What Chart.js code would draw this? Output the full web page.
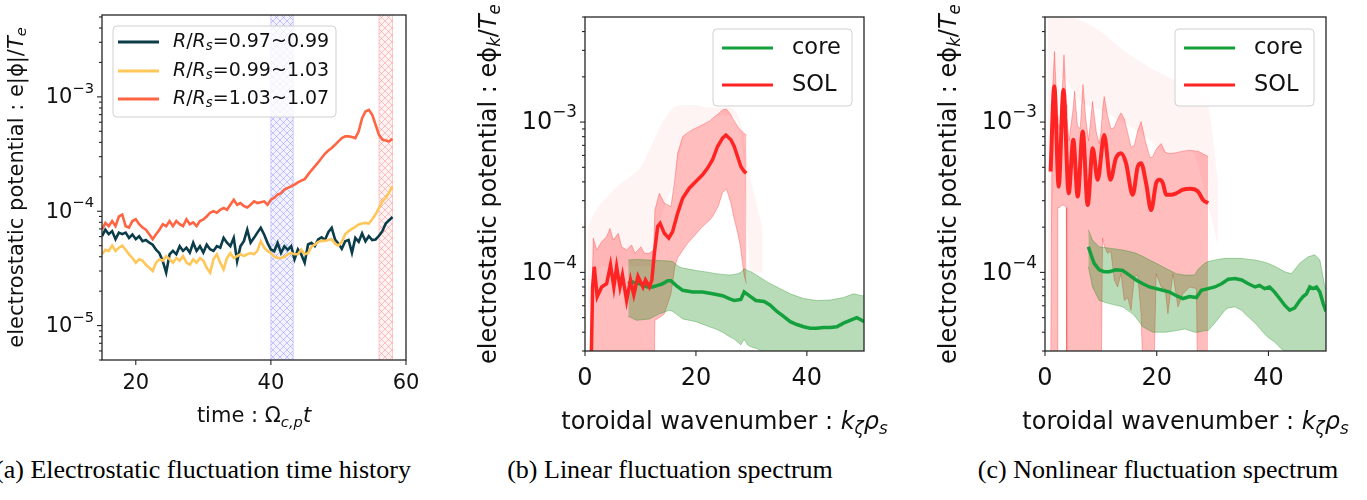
<!DOCTYPE html>
<html>
<head>
<meta charset="utf-8">
<script src="https://cdn.jsdelivr.net/npm/chart.js@4.4.1/dist/chart.umd.min.js"></script>
<style>
  body { margin: 0; background: #fff; width: 1367px; height: 500px; overflow: hidden; position: relative; }
  .panel { position: absolute; top: 0; height: 445px; }
  .cap { position: absolute; top: 457px; width: 520px; text-align: center; line-height: 26px;
         font-family: "Liberation Serif", serif; font-size: 26px; color: #000; white-space: nowrap; }
</style>
</head>
<body>
<div class="panel" style="left:0;width:460px"><canvas id="pa"></canvas></div>
<div class="panel" style="left:465px;width:430px"><canvas id="pb"></canvas></div>
<div class="panel" style="left:925px;width:442px"><canvas id="pc"></canvas></div>
<div class="cap" style="left:-57px">(a) Electrostatic fluctuation time history</div>
<div class="cap" style="left:410px">(b) Linear fluctuation spectrum</div>
<div class="cap" style="left:898px">(c) Nonlinear fluctuation spectrum</div>
<script>
// all potentials below are read in units of 1e-4
const U = 1e-4;

// (a) time history
const timeT = [15,15.5,16,16.5,17,17.5,18,18.5,19,19.5,20,20.5,21,21.5,22,22.5,23,23.5,24,24.5,
  25,25.5,26,26.5,27,27.5,28,28.5,29,29.5,30,30.5,31,31.5,32,32.5,33,33.5,34,34.5,35,35.5,36,36.5,
  37,37.5,38,38.5,39,39.5,40,40.5,41,41.5,42,42.5,43,43.5,44,44.5,45,45.5,46,46.5,47,47.5,48,48.5,
  49,49.5,50,50.5,51,51.5,52,52.5,53,53.5,54,54.5,55,55.5,56,56.5,57,57.5,58];
const phiInner = [0.605,0.69,0.63,0.67,0.57,0.65,0.63,0.65,0.585,0.626, 0.57,0.605,0.547,0.56,0.53,0.51,0.46,0.43,0.366,0.29,
  0.42,0.45,0.42,0.495,0.45,0.48,0.435,0.53,0.45,0.495, 0.435,0.51,0.465,0.45,0.495,0.48,0.585,0.53,0.495,0.585,
  0.366,0.495,0.547,0.69,0.53,0.585,0.65, 0.716,0.626,0.529,0.463,0.448,0.529,0.433,0.495,0.46,0.495,
  0.38,0.463,0.419,0.355,0.512,0.529,0.495,0.566,0.59,0.56, 0.655,0.716,0.566,0.52,0.47,0.547,0.56,0.433,0.585,0.54,
  0.64,0.547,0.605,0.56,0.566,0.61,0.669,0.78,0.835,0.89];
const phiMid = [0.42,0.46,0.45,0.50,0.45,0.48,0.50,0.46,0.42,0.39, 0.355,0.38,0.37,0.34,0.32,0.30,0.355,0.38,0.37,0.405,
  0.38,0.355,0.39,0.37,0.405,0.355,0.34,0.38,0.355,0.39, 0.37,0.32,0.29,0.38,0.42,0.355,0.31,0.39,0.43,0.39,
  0.405,0.42,0.405,0.42,0.43,0.42,0.45, 0.547,0.48,0.45,0.43,0.40,0.39,0.39,0.40,0.42,0.43,
  0.42,0.42,0.46,0.42,0.43,0.49,0.51,0.54,0.55,0.55, 0.56,0.57,0.52,0.50,0.54,0.63,0.67,0.70,0.73,0.765,
  0.78,0.79,0.78,0.85,0.94,1.07,1.22,1.31,1.46,1.65];
const phiOuter = [0.69,0.79,0.74,0.82,0.74,0.90,0.935,0.74,0.72,0.82, 0.85,0.77,0.72,0.69,0.63,0.57,0.63,0.69,0.77,0.74,
  0.82,0.74,0.82,0.77,0.74,0.85,0.77,0.80,0.74,0.82, 0.85,0.90,0.97,1.0,0.97,1.03,1.07,1.03,1.14,1.26,
  1.14,1.18,1.11,1.08,1.14,1.22,1.18, 1.20,1.22,1.14,1.26,1.31,1.40,1.44,1.55,1.60,1.65,
  1.71,1.79,1.85,1.91,2.09,2.28,2.47,2.67,2.92,3.18, 3.40,3.57,3.81,4.08,4.36,4.51,4.51,4.45,4.36,4.99,
  6.52,7.45,7.7,6.97,5.70,4.66,4.22,4.15,4.08,4.3];
const hatchStart = [40, 56];
const hatchEnd = [43.3, 58];
const timeTicks = [20, 40, 60];
const seriesNamesA = ['0.97~0.99', '0.99~1.03', '1.03~1.07'];

// (b) linear spectrum
const kSolLin = [1.0,1.37,1.67,2.2,3.0,3.9,4.6,5.2,5.7,6.3,6.75,7.5,8.2,8.8,9.55,10.45,10.9,11.6,12.05,12.5,
  13.1,13.55,14.3,15.1,15.8,16.7,17.6,18.8,20.3,21.2,22.1,23.0,23.9,24.8,25.4,26.3,26.9,27.5,28.1,28.7,29.1];
const solLin = [0.15,0.80,1.09,0.69,0.80,0.84,1.12,0.80,1.09,0.80,0.96,0.65,0.89,0.71,0.94,0.80,0.89,0.80,0.89,1.34,
  2.02,2.12,1.82,1.69,1.87,2.47,3.11,3.63,4.13,4.46,4.94,5.62,6.88,7.82,8.2,7.63,6.88,5.9,5.06,4.69,4.57];
const kSolBandLin = [1.0,1.5,2.1,3.0,3.9,4.5,5.1,6.0,6.6,7.5,8.4,9.0,10.1,10.7,11.6,12.4,12.6,13.4,14.3,15.5,
  16.2,16.7,17.6,18.5,19.4,21.2,22.5,23.0,24.0,24.8,25.5,26.3,26.8,27.5,28.0,28.4,28.7,29.1];
const solUpLin = [0.3,1.69,1.41,1.60,1.73,1.96,1.64,1.82,1.48,1.41,1.52,1.34,1.48,1.34,1.34,1.41,2.6,3.36,2.89,2.74,
  4.2,6.2,8.0,8.5,8.9,9.6,10.2,10.6,11.3,12.1,12.2,11.2,10.3,9.4,8.9,8.6,8.4,8.2];
const solLoLin = [0.1,0.1,0.1,0.1,0.1,0.1,0.1,0.1,0.1,0.1,0.1,0.1,0.1,0.1,0.1,0.1,0.48,0.50,0.53,0.72,
  1.09,1.25,1.40,1.56,1.70,2.02,2.23,2.35,2.74,3.4,3.6,2.9,2.35,1.85,1.5,1.15,0.95,0.84];
const kCoreLin = [7.8,8.4,9.0,9.55,10.4,11.3,12.2,13.1,14.0,14.9,15.5,16.4,17.6,19.4,21.2,23.0,24.8,26.0,26.9,28.1,
  28.7,29.6,30.8,32.3,33.4,34.6,35.8,37.0,38.2,39.4,40.6,41.8,43.0,44.2,45.4,46.6,47.8,49.0,49.9,50.3];
const coreLin = [0.84,0.87,0.85,0.85,0.82,0.80,0.80,0.82,0.84,0.88,0.88,0.82,0.76,0.74,0.74,0.72,0.70,0.67,0.65,0.66,
  0.74,0.70,0.65,0.64,0.605,0.55,0.51,0.47,0.45,0.435,0.425,0.425,0.43,0.43,0.435,0.46,0.48,0.50,0.48,0.47];
const kCoreBandLin = [7.8,9.3,11.6,13.4,15.2,15.8,16.4,17.0,17.6,19.4,20.0,22.4,23.6,24.8,26.0,26.9,27.5,28.1,28.7,29.3,
  29.9,31.1,32.3,32.9,34.6,37.0,39.4,41.8,44.2,46.6,48.4,49.9,50.3];
const coreUpLin = [1.21,1.22,1.21,1.20,1.19,1.18,1.13,1.09,1.07,1.04,1.03,1.0,0.98,0.97,0.96,0.97,0.98,1.0,1.06,1.03,
  1.01,0.95,0.89,0.86,0.80,0.72,0.67,0.65,0.655,0.68,0.72,0.70,0.70];
const coreLoLin = [0.51,0.48,0.49,0.53,0.56,0.55,0.53,0.51,0.49,0.475,0.47,0.435,0.42,0.40,0.375,0.36,0.345,0.33,0.36,0.33,
  0.32,0.31,0.295,0.28,0.2,0.2,0.2,0.2,0.2,0.2,0.2,0.2,0.2];
// faint cloud of individual spectra behind the SOL band
const kHazeLin = [0.5,2,4,6,8,10,12,14,16,18,20,22,24,26,28,30,32];
const hazeUpLin = [2.0,2.6,3.2,3.8,4.3,5.0,7,10,12.5,13,13,12.5,12.5,12.5,10,4,2];
const hazeLoLin = [0.5,1.0,1.1,1.1,1.1,1.1,1.1,2.5,4,8,9,10,11,11,9,1.0,1.0];

// (c) nonlinear spectrum
const kSolNl = [1.0,1.67,2.45,3.3,4.24,5.07,5.85,6.75,7.64,8.54,9.43,10.6,11.7,12.7,13.6,14.5,15.7,16.6,17.2,18.1,
  19.0,19.9,20.5,21.1,21.7,22.6,23.5,24.7,26.0,27.4,28.3,29.2];
const solNl = [4.69,17.3,3.72,16.4,3.36,7.63,3.2,8.66,2.81,6.7,4.13,8.2,4.13,5.76,6.2,5.33,3.28,5.06,5.33,3.92,
  2.6,3.92,4.13,3.92,3.28,3.28,3.36,3.55,3.6,3.45,3.03,2.89];
const kSolBandNl = [1.0,1.3,1.7,2.2,2.3,2.6,3.0,3.4,3.8,3.9,4.3,5.0,5.3,5.8,6.3,6.8,7.3,7.8,8.5,9.2,
  9.7,10.0,10.3,10.6,11.2,11.8,12.4,13.0,13.6,14.2,14.8,15.4,16.0,16.6,17.2,17.8,18.0,18.8,19.3,19.9,
  20.8,21.5,22.0,22.9,23.8,24.7,25.9,27.1,27.4,29.2];
const solUpNl = [0.2,15,29.5,11,10,9,14,28,13,11,7.5,12,16,9.5,9,17.8,10.5,7.5,13.7,8.5,
  7.2,8.5,12,14.8,11,9,9.2,10.5,11.5,10.5,8.5,6.8,7.0,8.8,10.1,8.0,7.4,5.8,5.9,6.6,
  7.2,6.3,6.2,6.2,6.3,6.4,6.5,6.4,6.4,5.9];
const solLoNl = [0.1,0.1,0.1,0.1,2.7,2.7,2.8,2.8,2.7,0.1,0.1,0.1,0.1,0.1,0.1,0.1,0.1,0.1,0.1,0.1,
  0.1,0.1,1.69,1.5,1.34,1.38,0.89,0.80,0.98,0.65,0.68,0.56,0.94,0.96,0.53,0.1,0.1,0.1,0.1,0.98,
  0.80,0.78,0.53,0.98,0.59,0.72,0.80,0.78,0.1,0.1];
const kCoreNl = [7.76,8.24,8.8,9.7,10.6,11.5,12.7,13.9,15.1,16.3,17.5,18.7,19.9,21.1,22.3,23.5,24.7,25.9,27.1,28.0,
  29.2,30.4,31.6,32.8,34.0,35.2,36.4,37.6,38.4,39.3,40.2,41.1,42.0,42.9,43.8,44.7,45.6,46.2,46.8,47.4,
  48.0,48.6,49.2,49.8,50.3];
const coreNl = [1.48,1.31,1.15,1.04,1.01,1.01,1.04,1.03,0.96,0.89,0.84,0.80,0.78,0.76,0.74,0.70,0.67,0.69,0.68,0.76,
  0.78,0.80,0.84,0.90,0.91,0.89,0.84,0.80,0.82,0.78,0.80,0.74,0.67,0.605,0.56,0.58,0.65,0.69,0.72,0.80,
  0.78,0.80,0.74,0.62,0.55];
const kCoreBandNl = [7.76,8.5,9.7,11.5,13.9,15.7,16.3,17.5,18.7,19.3,21.1,21.7,23.5,25.0,25.9,26.8,27.4,28.6,29.2,30.4,
  32.2,32.8,34.0,35.2,35.8,37.6,39.3,39.9,41.1,42.3,42.9,44.1,45.6,47.1,48.3,49.2,50.1,50.3];
const coreUpNl = [1.92,1.64,1.48,1.45,1.41,1.36,1.34,1.28,1.21,1.18,1.09,1.06,0.98,0.96,0.96,0.96,1.05,1.15,1.18,1.21,
  1.24,1.24,1.24,1.24,1.23,1.21,1.17,1.15,1.10,1.04,1.01,0.98,1.15,1.27,1.31,1.21,0.80,0.78];
const coreLoNl = [1.09,0.80,0.65,0.62,0.59,0.53,0.50,0.435,0.41,0.40,0.40,0.40,0.41,0.42,0.41,0.40,0.40,0.41,0.41,0.46,
  0.56,0.58,0.59,0.56,0.53,0.46,0.39,0.37,0.345,0.31,0.30,0.2,0.2,0.2,0.2,0.2,0.2,0.2];
const kHazeNl = [0.5,3,6,10,14,18,22,26,29,31];
const hazeUpNl = [50,50,48,40,30,24,20,17,14,4];
const hazeLoNl = [0.5,20,14,12,10,8,6.2,6.5,3,1.5];
const kTicks = [0, 20, 40];
const spectrumNames = ['core', 'SOL'];

const pts = (xs, ys) => xs.map((v, i) => ({ x: v, y: ys[i] * U }));

// text with italic / sub / superscript pieces: [text, flags] with i=italic, b=sub, p=sup
function drawRich(ctx, parts, x, y, size, align) {
  let w = 0;
  const segs = parts.map(([t, f = '']) => {
    const small = f.includes('b') || f.includes('p');
    const fs = small ? size * 0.7 : size;
    const font = (f.includes('i') ? 'italic ' : '') + fs + 'px "DejaVu Sans"';
    ctx.font = font;
    const seg = { t, font, dx: w, dy: f.includes('b') ? size * 0.22 : f.includes('p') ? -size * 0.42 : 0 };
    w += ctx.measureText(t).width;
    return seg;
  });
  const x0 = align === 'center' ? x - w / 2 : align === 'right' ? x - w : x;
  segs.forEach(s => { ctx.font = s.font; ctx.fillText(s.t, x0 + s.dx, y + s.dy); });
}

function hatchPattern(ctx, color) {
  const c = document.createElement('canvas');
  c.width = c.height = 7;
  const g = c.getContext('2d');
  g.strokeStyle = color; g.lineWidth = 0.9;
  g.beginPath(); g.moveTo(0, 0); g.lineTo(7, 7); g.moveTo(7, 0); g.lineTo(0, 7); g.stroke();
  return ctx.createPattern(c, 'repeat');
}

const cfgs = {};
const mplAxes = {
  id: 'mplAxes',
  beforeDatasetsDraw(chart) {
    const o = cfgs[chart.canvas.id];
    if (!o.hatch) return;
    const { ctx, chartArea: a, scales: { x } } = chart;
    ctx.save();
    ctx.beginPath(); ctx.rect(a.left, a.top, a.right - a.left, a.bottom - a.top); ctx.clip();
    o.hatch.forEach(h => {
      const x0 = x.getPixelForValue(h.from), x1 = x.getPixelForValue(h.to);
      ctx.fillStyle = h.base; ctx.fillRect(x0, a.top, x1 - x0, a.bottom - a.top);
      ctx.fillStyle = hatchPattern(ctx, h.line); ctx.fillRect(x0, a.top, x1 - x0, a.bottom - a.top);
      ctx.strokeStyle = h.edge; ctx.lineWidth = 1; ctx.strokeRect(x0, a.top - 2, x1 - x0, a.bottom - a.top + 4);
    });
    ctx.restore();
  },
  afterDatasetsDraw(chart) {
    const o = cfgs[chart.canvas.id];
    const { ctx, chartArea: a, scales: { x, y } } = chart;
    ctx.save();
    ctx.strokeStyle = '#262626'; ctx.fillStyle = '#111';
    ctx.lineWidth = 1.3;
    ctx.strokeRect(a.left, a.top, a.right - a.left, a.bottom - a.top);
    // log y ticks
    ctx.lineWidth = 1.1; ctx.textBaseline = 'middle';
    const e0 = Math.floor(Math.log10(y.min)), e1 = Math.ceil(Math.log10(y.max));
    for (let e = e0; e <= e1; e++) {
      for (let m = 1; m < 10; m++) {
        const v = m * Math.pow(10, e);
        if (v < y.min * 0.999 || v > y.max * 1.001) continue;
        const py = y.getPixelForValue(v);
        const len = m === 1 ? 5 : 3;
        ctx.beginPath(); ctx.moveTo(a.left - len, py); ctx.lineTo(a.left, py); ctx.stroke();
        if (m === 1) drawRich(ctx, [['10'], ['\u2212' + (-e), 'p']], a.left - 8, py + 1, o.font, 'right');
      }
    }
    // x ticks
    o.xTicks.forEach(v => {
      const px = x.getPixelForValue(v);
      ctx.beginPath(); ctx.moveTo(px, a.bottom); ctx.lineTo(px, a.bottom + 5); ctx.stroke();
      drawRich(ctx, [[String(v)]], px, a.bottom + o.xLabelDy, o.font, 'center');
    });
    // axis titles
    ctx.textBaseline = 'alphabetic';
    drawRich(ctx, o.xTitle, (a.left + a.right) / 2, a.bottom + o.xTitleDy, o.font, 'center');
    ctx.save();
    ctx.translate(o.yTitleX, (a.top + a.bottom) / 2);
    ctx.rotate(-Math.PI / 2);
    ctx.textBaseline = 'middle';
    drawRich(ctx, o.yTitle, 0, 0, o.font, 'center');
    ctx.restore();
    // legend
    const L = o.legend;
    ctx.fillStyle = 'rgba(255,255,255,0.8)'; ctx.strokeStyle = '#d0d0d0'; ctx.lineWidth = 1;
    ctx.beginPath(); ctx.roundRect(L.x, L.y, L.w, L.h, 4); ctx.fill(); ctx.stroke();
    ctx.textBaseline = 'middle';
    L.items.forEach((it, i) => {
      const ry = L.rows[i];
      ctx.strokeStyle = it.color; ctx.lineWidth = L.lw;
      ctx.beginPath(); ctx.moveTo(L.x0, ry); ctx.lineTo(L.x1, ry); ctx.stroke();
      ctx.fillStyle = '#111';
      drawRich(ctx, it.parts, L.tx, ry, L.font, 'left');
    });
    ctx.restore();
  }
};

function makeChart(id, datasets, xr, yr, o) {
  cfgs[id] = o;
  return new Chart(document.getElementById(id), {
    type: 'line',
    data: { datasets },
    options: {
      responsive: true, maintainAspectRatio: false, animation: false, events: [],
      layout: { padding: { left: 0, right: o.padRight, top: o.padTop, bottom: 0 } },
      plugins: { legend: { display: false }, tooltip: { enabled: false } },
      elements: { point: { radius: 0 } },
      scales: {
        x: { type: 'linear', min: xr[0], max: xr[1], ticks: { display: false }, grid: { display: false },
             border: { display: false }, afterFit: s => { s.height = o.xH; } },
        y: { type: 'logarithmic', min: yr[0], max: yr[1], ticks: { display: false }, grid: { display: false },
             border: { display: false }, afterFit: s => { s.width = o.yW; } }
      }
    },
    plugins: [mplAxes]
  });
}

const NAVY = '#0b3c49', GOLD = '#ffc75a', ORANGE = '#ff6542';
const GREEN = '#14a03c', RED = '#ff2424';
const legendA = (n) => [['R', 'i'], ['/'], ['R', 'i'], ['s', 'bi'], ['=' + n]];

makeChart('pa', [
  { data: pts(timeT, phiOuter), borderColor: ORANGE, borderWidth: 2.6, order: 0 },
  { data: pts(timeT, phiMid), borderColor: GOLD, borderWidth: 2.6, order: 1 },
  { data: pts(timeT, phiInner), borderColor: NAVY, borderWidth: 2.6, order: 2 }
], [15, 60], [5e-6, 5.2e-3], {
  yW: 102, padRight: 54, padTop: 15, xH: 85, font: 21, xTicks: timeTicks, xLabelDy: 24, xTitleDy: 62,
  yTitleX: 18,
  xTitle: [['time : '], ['\u03a9'], ['c,p', 'bi'], ['t', 'i']],
  yTitle: [['electrostatic potential : e|\u03d5|/'], ['T', 'i'], ['e', 'bi']],
  hatch: [
    { from: hatchStart[0], to: hatchEnd[0], base: 'rgba(160,160,255,0.12)', line: 'rgba(120,120,255,0.45)', edge: 'rgba(120,120,255,0.35)' },
    { from: hatchStart[1], to: hatchEnd[1], base: 'rgba(255,160,160,0.12)', line: 'rgba(255,110,110,0.45)', edge: 'rgba(255,110,110,0.35)' }
  ],
  legend: { x: 113, y: 26, w: 223, h: 91, x0: 118, x1: 159, tx: 173, rows: [42, 71, 99], font: 19, lw: 2.8,
    items: [{ color: NAVY, parts: legendA(seriesNamesA[0]) }, { color: GOLD, parts: legendA(seriesNamesA[1]) },
            { color: ORANGE, parts: legendA(seriesNamesA[2]) }] }
});

function spectrumSets(haze, solBand, coreBand, core, sol, smooth) {
  return [
    { data: pts(haze[0], haze[1]), borderWidth: 0, order: 7, cubicInterpolationMode: 'monotone' },
    { data: pts(haze[0], haze[2]), borderWidth: 0, fill: '-1', backgroundColor: 'rgba(255,40,40,0.05)', order: 6,
      cubicInterpolationMode: 'monotone' },
    { data: pts(solBand[0], solBand[1]), borderColor: 'rgba(255,0,0,0.28)', borderWidth: 1, order: 5 },
    { data: pts(solBand[0], solBand[2]), borderColor: 'rgba(255,0,0,0.28)', borderWidth: 1, fill: '-1', backgroundColor: 'rgba(255,0,0,0.26)', order: 4 },
    { data: pts(coreBand[0], coreBand[1]), borderColor: 'rgba(0,128,0,0.3)', borderWidth: 1, order: 3 },
    { data: pts(coreBand[0], coreBand[2]), borderColor: 'rgba(0,128,0,0.3)', borderWidth: 1, fill: '-1', backgroundColor: 'rgba(0,128,0,0.28)', order: 2 },
    { data: pts(core[0], core[1]), borderColor: GREEN, borderWidth: 3.5, order: 1 },
    { data: pts(sol[0], sol[1]), borderColor: RED, borderWidth: smooth ? 4 : 3.5, order: 0,
      cubicInterpolationMode: smooth ? 'monotone' : 'default' }
  ];
}

const specOpts = (legX) => ({
  yW: 120, padTop: 17, xH: 94, font: 24, xTicks: kTicks, xLabelDy: 28, xTitleDy: 78, yTitleX: 25,
  xTitle: [['toroidal wavenumber : '], ['k', 'i'], ['\u03b6', 'bi'], ['\u03c1', 'i'], ['s', 'bi']],
  yTitle: [['electrostatic potential : e\u03d5'], ['k', 'bi'], ['/'], ['T', 'i'], ['e', 'bi']],
  legend: { x: legX, y: 29, w: 139, h: 77, x0: legX + 9, x1: legX + 60, tx: legX + 79, rows: [48, 85], font: 22.5, lw: 3.2,
    items: [{ color: GREEN, parts: [[spectrumNames[0]]] }, { color: RED, parts: [[spectrumNames[1]]] }] }
});

makeChart('pb', spectrumSets([kHazeLin, hazeUpLin, hazeLoLin], [kSolBandLin, solUpLin, solLoLin],
  [kCoreBandLin, coreUpLin, coreLoLin], [kCoreLin, coreLin], [kSolLin, solLin], false),
  [0, 50.3], [3e-5, 5e-3], Object.assign(specOpts(248), { padRight: 31 }));

makeChart('pc', spectrumSets([kHazeNl, hazeUpNl, hazeLoNl], [kSolBandNl, solUpNl, solLoNl],
  [kCoreBandNl, coreUpNl, coreLoNl], [kCoreNl, coreNl], [kSolNl, solNl], true),
  [0, 50.3], [3e-5, 5e-3], Object.assign(specOpts(250), { padRight: 41 }));
</script>
</body>
</html>
